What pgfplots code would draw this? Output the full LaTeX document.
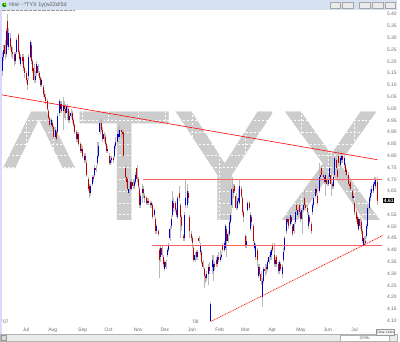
\documentclass[border=0pt]{standalone}
\usepackage{pgfplots}
\pgfplotsset{compat=1.18}
\usepackage{pgfplotstable}
\usepackage{fontspec}
\setmainfont{Liberation Sans}
\definecolor{upc}{RGB}{0,0,200}
\definecolor{dnc}{RGB}{190,0,0}
\definecolor{wickc}{RGB}{185,185,185}
\definecolor{wm}{RGB}{204,204,204}
\definecolor{lbl}{RGB}{110,110,110}
\definecolor{tbar}{RGB}{214,226,242}
\definecolor{pinkln}{RGB}{250,100,100}

\pgfplotstableread{
o h l c
5.16 5.24 5.14 5.22
5.22 5.27 5.20 5.25
5.27 5.29 5.21 5.23
5.23 5.34 5.22 5.33
5.37 5.40 5.26 5.27
5.26 5.34 5.25 5.32
5.30 5.32 5.25 5.26
5.26 5.27 5.22 5.24
5.24 5.26 5.21 5.23
5.23 5.24 5.18 5.20
5.20 5.24 5.19 5.23
5.24 5.30 5.23 5.29
5.31 5.32 5.23 5.24
5.24 5.25 5.20 5.21
5.19 5.23 5.18 5.22
5.22 5.23 5.19 5.20
5.22 5.23 5.16 5.17
5.17 5.18 5.13 5.15
5.15 5.16 5.11 5.12
5.12 5.13 5.08 5.10
5.14 5.23 5.12 5.22
5.22 5.29 5.21 5.28
5.27 5.28 5.19 5.20
5.20 5.21 5.15 5.16
5.17 5.19 5.11 5.12
5.12 5.16 5.11 5.14
5.15 5.20 5.14 5.19
5.18 5.19 5.14 5.15
5.15 5.16 5.12 5.13
5.13 5.14 5.09 5.10
5.10 5.13 5.09 5.12
5.09 5.10 5.05 5.06
5.06 5.08 5.04 5.05
5.05 5.06 5.02 5.03
5.03 5.04 4.99 5.00
4.99 5.00 4.95 4.96
4.96 4.97 4.92 4.93
4.93 4.96 4.92 4.95
4.94 4.95 4.91 4.92
4.92 4.93 4.87 4.88
4.88 4.92 4.87 4.91
4.90 4.91 4.86 4.87
4.90 4.98 4.89 4.97
4.98 5.04 4.97 5.03
5.00 5.03 4.98 5.02
5.02 5.03 4.98 4.99
4.99 5.05 4.91 5.01
5.01 5.03 4.96 5.00
5.00 5.02 4.95 4.98
4.98 5.02 4.95 5.01
5.00 5.01 4.94 4.95
4.95 4.99 4.94 4.97
4.97 5.00 4.96 4.98
4.98 4.99 4.94 4.95
4.95 4.96 4.92 4.93
4.93 4.94 4.89 4.90
4.90 4.91 4.86 4.87
4.87 4.90 4.86 4.89
4.89 4.90 4.84 4.85
4.85 4.86 4.81 4.82
4.82 4.85 4.81 4.83
4.83 4.84 4.79 4.80
4.78 4.81 4.77 4.80
4.80 4.81 4.77 4.78
4.77 4.78 4.71 4.72
4.70 4.71 4.65 4.66
4.67 4.68 4.62 4.64
4.64 4.68 4.63 4.67
4.68 4.72 4.67 4.71
4.71 4.72 4.69 4.70
4.72 4.76 4.71 4.75
4.75 4.76 4.73 4.74
4.77 4.86 4.76 4.80
4.80 4.86 4.79 4.84
4.90 4.96 4.89 4.94
4.94 4.95 4.90 4.91
4.91 4.92 4.86 4.87
4.87 4.90 4.86 4.89
4.88 4.89 4.84 4.85
4.85 4.86 4.81 4.82
4.82 4.84 4.81 4.83
4.80 4.81 4.76 4.77
4.77 4.80 4.76 4.78
4.78 4.80 4.77 4.79
4.79 4.80 4.77 4.78
4.80 4.85 4.79 4.84
4.84 4.88 4.83 4.86
4.86 4.91 4.85 4.89
4.88 4.92 4.87 4.89
4.88 4.93 4.87 4.91
4.91 4.92 4.88 4.90
4.90 4.91 4.87 4.89
4.90 4.91 4.79 4.80
4.75 4.76 4.70 4.71
4.71 4.72 4.67 4.69
4.70 4.71 4.65 4.66
4.64 4.67 4.63 4.66
4.66 4.70 4.65 4.69
4.69 4.70 4.65 4.66
4.69 4.70 4.66 4.67
4.67 4.70 4.66 4.69
4.69 4.73 4.68 4.72
4.75 4.76 4.69 4.70
4.70 4.71 4.66 4.67
4.66 4.67 4.58 4.59
4.59 4.64 4.58 4.63
4.64 4.68 4.60 4.66
4.66 4.67 4.62 4.64
4.63 4.64 4.60 4.62
4.62 4.63 4.59 4.60
4.60 4.62 4.59 4.61
4.61 4.62 4.59 4.60
4.60 4.61 4.58 4.59
4.59 4.61 4.58 4.60
4.59 4.60 4.53 4.54
4.55 4.58 4.54 4.57
4.53 4.54 4.47 4.48
4.48 4.51 4.47 4.50
4.48 4.49 4.46 4.47
4.40 4.41 4.28 4.36
4.37 4.42 4.35 4.41
4.41 4.42 4.37 4.38
4.37 4.38 4.33 4.34
4.32 4.36 4.31 4.35
4.35 4.36 4.32 4.33
4.38 4.41 4.37 4.40
4.40 4.43 4.39 4.42
4.45 4.50 4.44 4.49
4.50 4.55 4.49 4.53
4.55 4.65 4.54 4.61
4.60 4.62 4.56 4.58
4.60 4.61 4.56 4.57
4.57 4.58 4.54 4.55
4.54 4.63 4.53 4.62
4.64 4.67 4.61 4.62
4.59 4.60 4.45 4.54
4.54 4.55 4.48 4.50
4.46 4.47 4.44 4.45
4.45 4.56 4.44 4.55
4.59 4.70 4.58 4.62
4.59 4.68 4.58 4.65
4.64 4.65 4.60 4.62
4.54 4.55 4.45 4.48
4.47 4.48 4.44 4.45
4.45 4.46 4.41 4.43
4.41 4.42 4.35 4.36
4.36 4.39 4.35 4.38
4.39 4.40 4.36 4.37
4.37 4.40 4.36 4.39
4.45 4.46 4.43 4.44
4.39 4.43 4.38 4.42
4.39 4.40 4.34 4.35
4.35 4.36 4.32 4.33
4.32 4.33 4.24 4.29
4.29 4.30 4.26 4.28
4.28 4.31 4.27 4.30
4.30 4.34 4.25 4.33
4.33 4.35 4.30 4.31
4.10 4.18 4.10 4.17
4.33 4.38 4.30 4.36
4.31 4.38 4.27 4.34
4.34 4.35 4.31 4.33
4.36 4.37 4.33 4.34
4.34 4.38 4.33 4.37
4.37 4.39 4.35 4.36
4.36 4.40 4.35 4.37
4.37 4.39 4.36 4.38
4.42 4.43 4.39 4.40
4.40 4.44 4.39 4.43
4.41 4.51 4.40 4.50
4.49 4.50 4.37 4.44
4.44 4.48 4.43 4.47
4.47 4.53 4.46 4.52
4.52 4.56 4.51 4.55
4.59 4.71 4.58 4.66
4.66 4.68 4.62 4.64
4.67 4.68 4.64 4.65
4.63 4.64 4.57 4.58
4.58 4.62 4.57 4.61
4.61 4.66 4.60 4.62
4.60 4.70 4.59 4.67
4.66 4.67 4.62 4.63
4.62 4.63 4.55 4.56
4.56 4.57 4.52 4.54
4.46 4.47 4.41 4.42
4.42 4.46 4.41 4.44
4.57 4.61 4.56 4.60
4.60 4.61 4.57 4.58
4.49 4.56 4.48 4.55
4.54 4.55 4.50 4.52
4.50 4.51 4.43 4.44
4.41 4.44 4.40 4.43
4.37 4.43 4.36 4.42
4.40 4.41 4.33 4.36
4.29 4.34 4.28 4.33
4.33 4.34 4.29 4.30
4.30 4.31 4.25 4.27
4.20 4.28 4.16 4.27
4.27 4.33 4.26 4.32
4.32 4.34 4.29 4.31
4.33 4.34 4.30 4.32
4.32 4.36 4.31 4.35
4.35 4.38 4.34 4.37
4.37 4.40 4.36 4.39
4.38 4.41 4.36 4.40
4.42 4.43 4.39 4.40
4.38 4.43 4.33 4.34
4.34 4.37 4.33 4.36
4.37 4.38 4.33 4.34
4.34 4.35 4.30 4.31
4.31 4.36 4.30 4.35
4.34 4.35 4.31 4.32
4.30 4.34 4.28 4.33
4.36 4.41 4.35 4.39
4.40 4.46 4.39 4.45
4.48 4.54 4.47 4.53
4.53 4.55 4.51 4.52
4.53 4.54 4.49 4.50
4.51 4.56 4.50 4.55
4.54 4.55 4.51 4.52
4.50 4.51 4.46 4.47
4.48 4.52 4.47 4.51
4.52 4.57 4.51 4.56
4.59 4.60 4.56 4.57
4.55 4.58 4.54 4.57
4.59 4.60 4.55 4.56
4.56 4.57 4.52 4.53
4.53 4.58 4.47 4.57
4.57 4.60 4.56 4.59
4.62 4.65 4.58 4.59
4.59 4.60 4.57 4.58
4.58 4.59 4.55 4.56
4.50 4.56 4.49 4.55
4.54 4.55 4.51 4.52
4.51 4.52 4.47 4.48
4.56 4.60 4.55 4.59
4.59 4.63 4.58 4.62
4.63 4.68 4.62 4.66
4.66 4.67 4.63 4.64
4.63 4.64 4.59 4.60
4.65 4.77 4.64 4.71
4.71 4.74 4.69 4.72
4.75 4.76 4.71 4.72
4.72 4.73 4.70 4.71
4.71 4.72 4.68 4.69
4.69 4.73 4.63 4.72
4.70 4.71 4.67 4.68
4.68 4.72 4.67 4.70
4.71 4.80 4.70 4.75
4.72 4.73 4.63 4.68
4.68 4.69 4.66 4.67
4.67 4.72 4.66 4.71
4.72 4.80 4.71 4.79
4.78 4.79 4.74 4.75
4.74 4.75 4.70 4.71
4.80 4.82 4.76 4.77
4.76 4.80 4.75 4.79
4.78 4.82 4.77 4.80
4.80 4.81 4.77 4.78
4.76 4.80 4.75 4.79
4.76 4.77 4.72 4.73
4.74 4.75 4.71 4.72
4.72 4.73 4.67 4.68
4.68 4.69 4.65 4.67
4.69 4.70 4.65 4.66
4.65 4.66 4.61 4.62
4.62 4.64 4.60 4.63
4.60 4.61 4.55 4.56
4.56 4.57 4.52 4.53
4.54 4.55 4.50 4.51
4.49 4.54 4.48 4.53
4.53 4.54 4.49 4.50
4.52 4.53 4.47 4.48
4.48 4.49 4.43 4.44
4.42 4.46 4.42 4.45
4.44 4.46 4.42 4.43
4.46 4.51 4.45 4.50
4.50 4.59 4.49 4.58
4.58 4.63 4.57 4.62
4.62 4.66 4.61 4.64
4.64 4.67 4.63 4.66
4.65 4.69 4.64 4.68
4.68 4.71 4.67 4.69
4.67 4.71 4.66 4.70
4.69 4.71 4.59 4.61
}\data

\begin{document}
\begin{tikzpicture}
\begin{axis}[
  set layers,
  scale only axis, width=385bp, height=316bp,
  at={(0,0)}, anchor=south west,
  xmin=-1.504, xmax=287.97, ymin=4.0887, ymax=5.418,
  clip=false,
  axis line style={draw=none},
  major tick length=0pt,
  yticklabel pos=right,
  ytick={4.10,4.15,4.20,4.25,4.30,4.35,4.40,4.45,4.50,4.55,4.60,4.65,4.70,4.75,4.80,4.85,4.90,4.95,5.00,5.05,5.10,5.15,5.20,5.25,5.30,5.35,5.40},
  yticklabels={4.10,4.15,4.20,4.25,4.30,4.35,4.40,4.45,4.50,4.55,{},4.65,4.70,4.75,4.80,4.85,4.90,4.95,5.00,5.05,5.10,5.15,5.20,5.25,5.30,5.35,5.40},
  y tick label style={font=\fontsize{5bp}{6bp}\selectfont, text=lbl, xshift=1.2bp},
  xtick={18,38.3,60.9,80.5,103,123.3,143.6,164.7,184.2,204.5,226.3,246.6,266.9},
  xticklabels={Jul,Aug,Sep,Oct,Nov,Dec,Jan,Feb,Mar,Apr,May,Jun,Jul},
  x tick label style={font=\fontsize{5bp}{6bp}\selectfont, text=lbl, anchor=base, yshift=-7.8bp},
  grid=major,
  grid style={white, dash pattern=on 2bp off 2bp, line width=0.5bp},
]
\begin{pgfonlayer}{axis background}
\node[anchor=base west, inner sep=0pt, text=wm, font=\fontsize{159bp}{159bp}\selectfont] at (axis cs:0,4.526) {\char"5E TYX};
\end{pgfonlayer}

% wicks (low to high)
\addplot[draw=wickc, line width=0.8bp, mark=none,
  quiver={u=0, v={\thisrow{h}-\thisrow{l}}}]
  table[x expr=\coordindex, y=l] {\data};
% up bodies (open to close)
\addplot[draw=upc, line width=1.0bp, mark=none,
  quiver={u=0, v={max(\thisrow{c}-\thisrow{o},0)}}]
  table[x expr=\coordindex, y=o] {\data};
% down bodies (close to open)
\addplot[draw=dnc, line width=1.0bp, mark=none,
  quiver={u=0, v={max(\thisrow{o}-\thisrow{c},0)}}]
  table[x expr=\coordindex, y=c] {\data};

% trend lines
\addplot[draw=red, line width=0.6bp, mark=none] coordinates {(-1.504,5.059) (284.2,4.783)};
\addplot[draw=pinkln, line width=0.8bp, mark=none] coordinates {(106.8,4.70) (287.97,4.70)};
\addplot[draw=pinkln, line width=0.8bp, mark=none] coordinates {(113.5,4.418) (287.97,4.418)};
\addplot[draw=red, line width=0.7bp, mark=none, dash pattern=on 1bp off 0.8bp] coordinates {(157.9,4.097) (287.97,4.461)};

% last price
\node[fill=black, text=white, inner sep=0.6bp, anchor=west, font=\fontsize{5bp}{6bp}\selectfont\bfseries] at (axis cs:288.5,4.61) {4.61};
\end{axis}

\path (0,-18bp) rectangle (400bp,326bp);
% window decorations
\fill[tbar] (0,316bp) rectangle (400bp,326bp);
\fill[green!60!black] (4bp,321bp) circle (2.2bp);
\fill[yellow!80!orange] (4.6bp,321.6bp) circle (1bp);
\node[anchor=west, inner sep=0pt, text=black!65, font=\fontsize{5.5bp}{6bp}\selectfont] at (9bp,321bp) {Hist - \char"5E TYX 1y(w22d/5d};
\draw[black!40, dash pattern=on 0.5bp off 0.8bp] (0,316bp) -- (75bp,316bp);
\foreach \a/\b in {332/343,345/356,362/373,375/386,388/398}{
  \filldraw[fill=black!8, draw=black!35, line width=0.4bp] (\a bp,318bp) rectangle (\b bp,324bp);
}
\fill[blue!15] (0,-11bp) rectangle (1.5bp,316bp);
\filldraw[fill=black!8, draw=black!30, line width=0.4bp] (0.2bp,-17.8bp) rectangle (399.8bp,-11bp);
\filldraw[fill=black!15, draw=black!40, line width=0.4bp] (1bp,-17bp) rectangle (6bp,-12bp);
\filldraw[fill=white, draw=black!30, line width=0.4bp] (343bp,-17.5bp) rectangle (392bp,-11.5bp);
\node[inner sep=0pt, text=black!60, font=\fontsize{4bp}{5bp}\selectfont] at (367bp,-14.5bp) {20/9b};
\filldraw[fill=black!5, draw=black!40, line width=0.4bp] (379bp,-12bp) rectangle (397bp,-5.5bp);
\node[inner sep=0pt, text=black!70, font=\fontsize{3.5bp}{4bp}\selectfont] at (388bp,-8.8bp) {Clear Lines};
\node[anchor=base west, inner sep=0pt, text=lbl, font=\fontsize{5bp}{6bp}\selectfont] at (1.5bp,0.2bp) {'07};
\node[anchor=base west, inner sep=0pt, text=lbl, font=\fontsize{5bp}{6bp}\selectfont] at (193bp,0.2bp) {'08};
\end{tikzpicture}
\end{document}
